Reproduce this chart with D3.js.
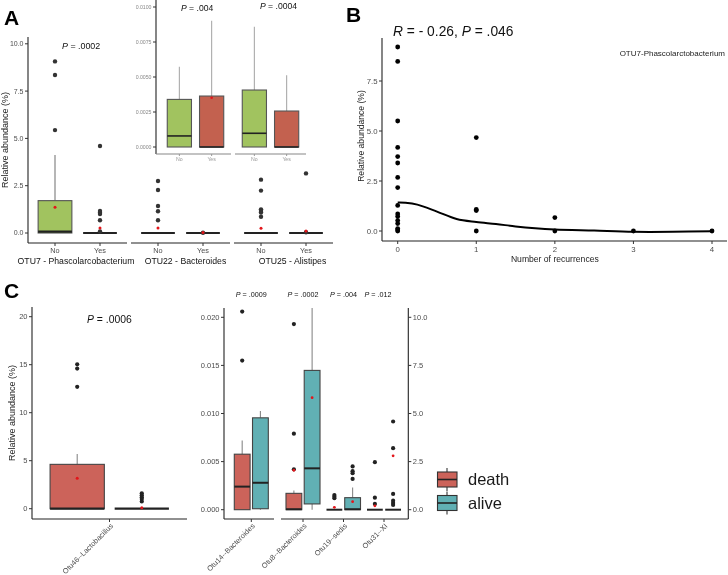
<!DOCTYPE html>
<html><head><meta charset="utf-8">
<script src="https://cdn.jsdelivr.net/npm/d3@7"></script>
<style>body{margin:0;background:#fff}svg{display:block;font-family:"Liberation Sans",Arial,sans-serif;will-change:transform}</style>
</head><body>
<svg id="c" width="728" height="575"></svg>
<script>
// ---------- DATA ----------
// Panel A (main): [whiskerLow, q1, median, q3, whiskerHigh]
const aFacets = ["OTU7 - Phascolarcobacterium", "OTU22 - Bacteroides", "OTU25 - Alistipes"];
const aGroups = ["No", "Yes"];
const aStats = [
  [[0, 0, 0.07, 1.71, 4.12], [0, 0, 0, 0, 0]],
  [[0, 0, 0, 0, 0], [0, 0, 0, 0, 0]],
  [[0, 0, 0, 0, 0], [0, 0, 0, 0, 0]]
];
const aMeans = [[1.36, 0.26], [0.26, 0.02], [0.25, 0.1]];
const aOutliers = [
  [[5.44, 8.35, 9.07], [4.6, 1.16, 1.07, 1.0, 0.67, 0.08]],
  [[2.75, 2.27, 1.43, 1.15, 0.67], [0.01]],
  [[2.82, 2.24, 1.25, 1.16, 1.08, 0.86], [3.15, 0.04]]
];
const aPval = "P = .0002";
const aTicks = [0, 2.5, 5, 7.5, 10];
// Panel A inset
const insetStats = [
  [[0, 0, 0.00079, 0.0034, 0.00574], [0, 0, 0, 0.00364, 0.00902]],
  [[0, 0, 0.00098, 0.00407, 0.00859], [0, 0, 0, 0.00257, 0.00512]]
];
const insetMeans = [[null, 0.00352], [null, null]];
const insetPvals = ["P = .004", "P = .0004"];
const insetTicks = [0, 0.0025, 0.005, 0.0075, 0.01];
// Panel B
const bRecurrences = [0,0,0,0,0,0,0,0,0,0,0,0,0,0,0,0, 1,1,1,1, 2,2, 3, 4];
const bAbundance = [9.2,8.48,5.5,4.18,3.72,3.4,2.68,2.17,1.28,0.85,0.72,0.52,0.37,0.12,0.05,0, 4.67,1.08,1.02,0, 0.67,0, 0, 0];
const bSmoothX = [0, 0.1, 0.25, 0.5, 0.75, 1, 1.25, 1.5, 1.75, 2, 2.5, 3, 3.5, 4];
const bSmoothY = [1.42, 1.41, 1.32, 0.97, 0.6, 0.45, 0.35, 0.23, 0.14, 0.08, 0.02, -0.04, -0.04, -0.01];
const bXTicks = [0, 1, 2, 3, 4];
const bYTicks = [0, 2.5, 5, 7.5];
const bTitle = "R = - 0.26, P = .046";
const bLabel = "OTU7-Phascolarctobacterium";
// Panel C
const cGroups = ["death", "alive"];
const cLeftCat = "Otu46--Lactobacillus";
const cLeftStats = [[0, 0, 0, 4.62, 5.7], [0, 0, 0, 0, 0]];
const cLeftMeans = [3.17, 0.1];
const cLeftOutliers = [[15.04, 14.6, 12.7], [1.6, 1.4, 1.2, 1.0, 0.75]];
const cLeftP = "P = .0006";
const cLeftTicks = [0, 5, 10, 15, 20];
const cRightCats = ["Otu14--Bacteroides", "Otu8--Bacteroides", "Otu19--sedis", "Otu31--XI"];
const cRightStats = [
  [[0, 0, 0.0024, 0.00577, 0.00719], [0, 0.0001, 0.0028, 0.00955, 0.01025]],
  [[0, 0, 0.00005, 0.0017, 0.002], [0, 0.0006, 0.0043, 0.01448, 0.0215]],
  [[0, 0, 0, 0, 0], [0, 0, 0.00005, 0.00125, 0.0023]],
  [[0, 0, 0, 0, 0], [0, 0, 0, 0, 0]]
];
const cRightMeans = [[null, null], [0.0041, 0.01164], [0.00025, 0.00083], [0.0004, 0.0056]];
const cRightOutliers = [
  [[0.0206, 0.0155], []],
  [[0.0193, 0.0079, 0.0042], []],
  [[0.00153, 0.00135, 0.0012], [0.0045, 0.004, 0.0038, 0.0032]],
  [[0.00494, 0.00125, 0.0006], [0.00917, 0.0064, 0.00164, 0.00094, 0.0007, 0.0005]]
];
const cRightPvals = ["P = .0009", "P = .0002", "P = .004", "P = .012"];
const cRightTicks = [0, 0.005, 0.01, 0.015, 0.02];
const cRightTicks2 = [0, 2.5, 5, 7.5, 10];

// ---------- STYLE ----------
const GREEN = "#a1c35f", REDA = "#c3614f", REDC = "#cc635a", TEAL = "#61b0b4";
const svg = d3.select("#c");
const TXT = "#4d4d4d";

function boxplot(g, cx, w, s, fill, y, o) {
  o = o || {};
  const wc = o.whisker || "#7a7a7a", bc = o.border || "#555";
  g.append("line").attr("x1", cx).attr("x2", cx).attr("y1", y(s[4])).attr("y2", y(s[3])).attr("stroke", wc).attr("stroke-width", 1.1);
  g.append("line").attr("x1", cx).attr("x2", cx).attr("y1", y(s[1])).attr("y2", y(s[0])).attr("stroke", wc).attr("stroke-width", 1.1);
  g.append("rect").attr("x", cx - w / 2).attr("y", y(s[3])).attr("width", w).attr("height", Math.max(0, y(s[1]) - y(s[3])))
    .attr("fill", fill).attr("stroke", bc).attr("stroke-width", 1.1);
  g.append("line").attr("x1", cx - w / 2).attr("x2", cx + w / 2).attr("y1", y(s[2])).attr("y2", y(s[2])).attr("stroke", "#222").attr("stroke-width", o.mw || 2);
}
function dot(g, x, y, r, c) { g.append("circle").attr("cx", x).attr("cy", y).attr("r", r).attr("fill", c); }
function ptext(g, x, y, str, size, anchor) {
  const t = g.append("text").attr("x", x).attr("y", y).attr("font-size", size).attr("fill", "#111").attr("text-anchor", anchor || "start");
  const parts = str.split(/(P|R)(?= =)/);
  parts.forEach(p => { if (!p) return; const ts = t.append("tspan").text(p); if (p === "P" || p === "R") ts.attr("font-style", "italic"); });
  return t;
}
function yAxisDraw(g, scale, x, ticks, fmt, y0, y1, size, color, side) {
  g.append("line").attr("x1", x).attr("x2", x).attr("y1", y0).attr("y2", y1).attr("stroke", "#222").attr("stroke-width", 1.1);
  const dir = side === "right" ? 1 : -1;
  ticks.forEach(t => {
    const yy = scale(t);
    g.append("line").attr("x1", x).attr("x2", x + dir * 3).attr("y1", yy).attr("y2", yy).attr("stroke", "#333");
    g.append("text").attr("x", x + dir * 4.5).attr("y", yy).attr("dy", "0.35em").attr("font-size", size).attr("fill", color || TXT)
      .attr("text-anchor", side === "right" ? "start" : "end").text(fmt(t));
  });
}
function label(x, y, s) { svg.append("text").attr("x", x).attr("y", y).attr("font-size", 21).attr("font-weight", "bold").attr("fill", "#000").text(s); }

// ---------- PANEL A ----------
label(4, 25, "A");
const gA = svg.append("g");
const yA = d3.scaleLinear().domain([0, 10]).range([233, 43.8]);
yAxisDraw(gA, yA, 28, aTicks, d3.format(".1f"), 37, 243, 7);
gA.append("text").attr("transform", "translate(8,140) rotate(-90)").attr("text-anchor", "middle").attr("font-size", 9).attr("fill", "#222").text("Relative abundance (%)");
const aStarts = [28, 131, 234], aW = 99, aLabelShift = [-1.5, 5, 9];
aFacets.forEach((f, i) => {
  const x = d3.scaleLinear().domain([0.4, 2.6]).range([aStarts[i], aStarts[i] + aW]);
  gA.append("line").attr("x1", aStarts[i]).attr("x2", aStarts[i] + aW).attr("y1", 243).attr("y2", 243).attr("stroke", "#222").attr("stroke-width", 1.1);
  const bw = x(1.75) - x(1);
  aGroups.forEach((gname, j) => {
    const cx = x(j + 1);
    gA.append("line").attr("x1", cx).attr("x2", cx).attr("y1", 243).attr("y2", 246).attr("stroke", "#333");
    gA.append("text").attr("x", cx).attr("y", 252.5).attr("text-anchor", "middle").attr("font-size", 7.3).attr("fill", TXT).text(gname);
    boxplot(gA, cx, bw, aStats[i][j], j === 0 ? GREEN : REDA, yA, { mw: 2.2 });
    aOutliers[i][j].forEach(v => dot(gA, cx, yA(v), 2.2, "#333"));
    dot(gA, cx, yA(aMeans[i][j]), 1.5, "#e3151a");
  });
  gA.append("text").attr("x", x(1.5) + aLabelShift[i]).attr("y", 263.5).attr("text-anchor", "middle").attr("font-size", 8.7).attr("fill", "#111").text(f);
});
ptext(gA, 62, 48.5, aPval, 8.9);

// Inset
const gI = svg.append("g");
const yI = d3.scaleLinear().domain([0, 0.01]).range([147, 7]);
yAxisDraw(gI, yI, 156, insetTicks, d3.format(".4f"), 0, 154, 5.2, "#888");
const iRanges = [[160, 231], [235, 306]];
insetStats.forEach((st, i) => {
  const x = d3.scaleLinear().domain([0.4, 2.6]).range(iRanges[i]);
  gI.append("line").attr("x1", i === 0 ? 156 : iRanges[i][0]).attr("x2", iRanges[i][1]).attr("y1", 154).attr("y2", 154).attr("stroke", "#888").attr("stroke-width", 1.1);
  const bw = x(1.75) - x(1);
  aGroups.forEach((gname, j) => {
    const cx = x(j + 1);
    gI.append("line").attr("x1", cx).attr("x2", cx).attr("y1", 154).attr("y2", 156).attr("stroke", "#999");
    gI.append("text").attr("x", cx).attr("y", 161).attr("text-anchor", "middle").attr("font-size", 5.2).attr("fill", "#999").text(gname);
    boxplot(gI, cx, bw, st[j], j === 0 ? GREEN : REDA, yI, { whisker: "#aaa", mw: 1.6 });
    if (insetMeans[i][j] != null) dot(gI, cx, yI(insetMeans[i][j]), 1.3, "#e3151a");
  });
});
ptext(gI, 181, 10.5, insetPvals[0], 8.6);
ptext(gI, 260, 8.5, insetPvals[1], 8.6);

// ---------- PANEL B ----------
label(346, 22, "B");
const gB = svg.append("g");
const xB = d3.scaleLinear().domain([0, 4]).range([397.7, 712]);
const yB = d3.scaleLinear().domain([0, 2.5]).range([231, 181]);
yAxisDraw(gB, yB, 382, bYTicks, d3.format(".1f"), 38, 241, 7.8);
gB.append("line").attr("x1", 382).attr("x2", 727).attr("y1", 241).attr("y2", 241).attr("stroke", "#222").attr("stroke-width", 1.1);
bXTicks.forEach(t => {
  gB.append("line").attr("x1", xB(t)).attr("x2", xB(t)).attr("y1", 241).attr("y2", 244).attr("stroke", "#333");
  gB.append("text").attr("x", xB(t)).attr("y", 252).attr("text-anchor", "middle").attr("font-size", 7.8).attr("fill", TXT).text(t);
});
gB.append("text").attr("x", xB(2)).attr("y", 261.5).attr("text-anchor", "middle").attr("font-size", 8.6).attr("fill", "#222").text("Number of recurrences");
gB.append("text").attr("transform", "translate(364,136) rotate(-90)").attr("text-anchor", "middle").attr("font-size", 8.6).attr("fill", "#222").text("Relative abundance (%)");
bRecurrences.forEach((r, i) => dot(gB, xB(r), yB(bAbundance[i]), 2.4, "#000"));
gB.append("path").datum(bSmoothX.map((x, i) => [x, bSmoothY[i]]))
  .attr("d", d3.line().x(d => xB(d[0])).y(d => yB(d[1])).curve(d3.curveCatmullRom))
  .attr("fill", "none").attr("stroke", "#000").attr("stroke-width", 2);
ptext(gB, 393, 36, bTitle, 13.8);
gB.append("text").attr("x", 725).attr("y", 56).attr("text-anchor", "end").attr("font-size", 8).attr("fill", "#222").text(bLabel);

// ---------- PANEL C ----------
label(4, 298, "C");
const gC = svg.append("g");
const yCL = d3.scaleLinear().domain([0, 20]).range([508.7, 316.7]);
yAxisDraw(gC, yCL, 32, cLeftTicks, d3.format("d"), 307, 519, 7.5);
gC.append("line").attr("x1", 32).attr("x2", 187).attr("y1", 519).attr("y2", 519).attr("stroke", "#222").attr("stroke-width", 1.1);
gC.append("text").attr("transform", "translate(15,413) rotate(-90)").attr("text-anchor", "middle").attr("font-size", 9).attr("fill", "#222").text("Relative abundance (%)");
const xCL = d3.scaleLinear().domain([0.4, 1.6]).range([32, 187]);
const cLU = xCL(1) - xCL(0);
gC.append("line").attr("x1", xCL(1)).attr("x2", xCL(1)).attr("y1", 519).attr("y2", 522).attr("stroke", "#333");
gC.append("text").attr("transform", `translate(${xCL(1) + 4},526.5) rotate(-45)`).attr("text-anchor", "end").attr("font-size", 7.4).attr("fill", TXT).text(cLeftCat);
cGroups.forEach((gname, j) => {
  const cx = xCL(1) + (j === 0 ? -0.25 : 0.25) * cLU;
  boxplot(gC, cx, 0.42 * cLU, cLeftStats[j], j === 0 ? REDC : TEAL, yCL, { border: "#444", whisker: "#888", mw: 2.2 });
  cLeftOutliers[j].forEach(v => dot(gC, cx, yCL(v), 2.1, "#222"));
  dot(gC, cx, yCL(cLeftMeans[j]), 1.5, "#e3151a");
});
ptext(gC, 87, 323, cLeftP, 10.4);

// right
const yCR = d3.scaleLinear().domain([0, 0.02]).range([509.7, 317.3]);
const yCR2 = d3.scaleLinear().domain([0, 10]).range([509.7, 317.3]);
yAxisDraw(gC, yCR, 224, cRightTicks, d3.format(".3f"), 308, 519, 7.5);
yAxisDraw(gC, yCR2, 408.3, cRightTicks2, d3.format(".1f"), 308, 519, 7.5, TXT, "right");
gC.append("line").attr("x1", 224).attr("x2", 274).attr("y1", 519).attr("y2", 519).attr("stroke", "#222").attr("stroke-width", 1.1);
gC.append("line").attr("x1", 281).attr("x2", 408.3).attr("y1", 519).attr("y2", 519).attr("stroke", "#222").attr("stroke-width", 1.1);
const xCR = d3.scaleLinear().domain([1, 2, 3, 4]).range([251.3, 303, 343.5, 384]);
const cRU = 40.5;
svg.append("defs").append("clipPath").attr("id", "cr").append("rect").attr("x", 220).attr("y", 308).attr("width", 190).attr("height", 215);
const gCR = gC.append("g").attr("clip-path", "url(#cr)");
cRightCats.forEach((cat, i) => {
  const tx = xCR(i + 1);
  gC.append("line").attr("x1", tx).attr("x2", tx).attr("y1", 519).attr("y2", 522).attr("stroke", "#333");
  gC.append("text").attr("transform", `translate(${tx + 4},526.5) rotate(-45)`).attr("text-anchor", "end").attr("font-size", 7.4).attr("fill", TXT).text(cat);
  cGroups.forEach((gname, j) => {
    const cx = tx + (j === 0 ? -0.225 : 0.225) * cRU;
    boxplot(gCR, cx, 0.39 * cRU, cRightStats[i][j], j === 0 ? REDC : TEAL, yCR, { border: "#444", whisker: "#888", mw: 2 });
    cRightOutliers[i][j].forEach(v => dot(gCR, cx, yCR(v), 2.1, "#222"));
    if (cRightMeans[i][j] != null) dot(gCR, cx, yCR(cRightMeans[i][j]), 1.4, "#e3151a");
  });
  ptext(gC, tx - (i === 3 ? 6 : 0), 297, cRightPvals[i], 7.2, "middle");
});

// legend
const gL = svg.append("g");
cGroups.forEach((gname, j) => {
  const y0 = 472 + j * 23.5;
  gL.append("line").attr("x1", 447).attr("x2", 447).attr("y1", y0 - 4).attr("y2", y0 + 19).attr("stroke", "#333").attr("stroke-width", 1.1);
  gL.append("rect").attr("x", 437.5).attr("y", y0).attr("width", 19.5).attr("height", 15).attr("fill", j === 0 ? REDC : TEAL).attr("stroke", "#333").attr("stroke-width", 1.1);
  gL.append("line").attr("x1", 437.5).attr("x2", 457).attr("y1", y0 + 7.5).attr("y2", y0 + 7.5).attr("stroke", "#222").attr("stroke-width", 1.6);
  gL.append("text").attr("x", 468).attr("y", y0 + 7.5).attr("dy", "0.35em").attr("font-size", 16.5).attr("fill", "#1a1a1a").text(gname);
});
</script>
</body></html>
